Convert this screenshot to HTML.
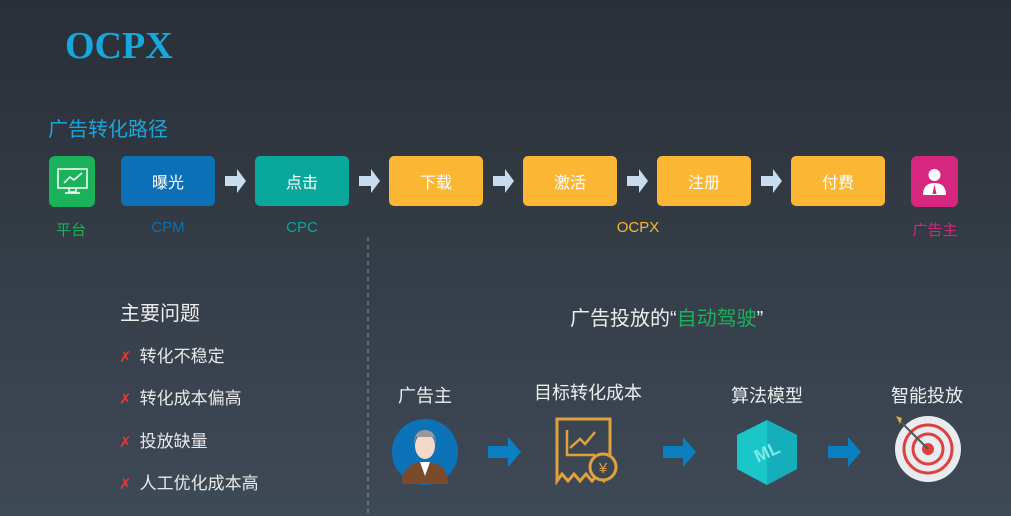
<!DOCTYPE html>
<html><head><meta charset="utf-8"><style>
*{margin:0;padding:0;box-sizing:border-box}
body{width:1011px;height:516px;overflow:hidden;position:relative;background:linear-gradient(180deg,#2a2f37 0%,#333b45 45%,#3f4a57 100%);font-family:"Liberation Sans","Noto Sans CJK SC",sans-serif;color:#fff}
.a{position:absolute}
.box{position:absolute;top:156px;width:94px;height:50px;border-radius:5px;color:#fff;font-size:16px;display:flex;align-items:center;justify-content:center}
.o{background:#fbb733}
.lbl{position:absolute;top:219px;font-size:15px;transform:translateX(-50%)}
.it{position:absolute;left:119px;font-size:17px;color:#e8e8e8}
.it span{color:#e03a3a;margin-right:8px;font-size:15px}
.bl{position:absolute;font-size:18px;color:#eee;transform:translateX(-50%)}
</style></head><body>
<div class="a" style="left:65px;top:24px;font-family:'Liberation Serif',serif;font-weight:bold;font-size:38px;color:#18a7dd">OCPX</div>
<div class="a" style="left:48px;top:113px;font-size:20px;color:#18a7dd">广告转化路径</div>

<div class="a" style="left:49px;top:156px;width:46px;height:51px;background:#1ab25b;border-radius:6px">
<svg width="46" height="51" viewBox="0 0 46 51"><rect x="9" y="13" width="29" height="19" fill="none" stroke="#fff" stroke-width="1.5"/><polyline points="15,27 21,21 25,24 33,17" fill="none" stroke="#fff" stroke-width="1.5"/><path d="M20 32v4h7v-4M16 37h15" stroke="#fff" stroke-width="1.5" fill="none"/></svg></div>
<div class="box" style="left:121px;background:#0b70b6">曝光</div>
<div class="box" style="left:255px;background:#0aa89b">点击</div>
<div class="box o" style="left:389px">下载</div>
<div class="box o" style="left:523px">激活</div>
<div class="box o" style="left:657px">注册</div>
<div class="box o" style="left:791px">付费</div>
<div class="a" style="left:911px;top:156px;width:47px;height:51px;background:#d6267f;border-radius:6px">
<svg width="47" height="51"><circle cx="23.5" cy="19" r="6" fill="#fff"/><path d="M12 39q0-12 11.5-12T35 39z" fill="#fff"/><path d="M23.5 28l-2 10h4z" fill="#d6267f"/></svg></div>
<svg class="a" style="left:0;top:0" width="1011" height="516">
<g fill="#c8dcf0">
<path d="M225 176h12v-7l9 12-9 12v-7h-12z"/>
<path d="M359 176h12v-7l9 12-9 12v-7h-12z"/>
<path d="M493 176h12v-7l9 12-9 12v-7h-12z"/>
<path d="M627 176h12v-7l9 12-9 12v-7h-12z"/>
<path d="M761 176h12v-7l9 12-9 12v-7h-12z"/>
</g>
<line x1="368" y1="237" x2="368" y2="516" stroke="#8a929c" stroke-width="1" stroke-dasharray="4,4"/>
<g fill="#0a80c2">
<path d="M488 446h20v-9l13 15-13 15v-9h-20z"/>
<path d="M663 446h20v-9l13 15-13 15v-9h-20z"/>
<path d="M828 446h20v-9l13 15-13 15v-9h-20z"/>
</g>
<ellipse cx="425" cy="452" rx="33" ry="33" fill="#0c73b8"/>
<path d="M402 484q0-22 23-22t23 22z" fill="#7a4a2c"/>
<path d="M420 462h10l-5 14z" fill="#fff"/>
<ellipse cx="425" cy="446" rx="10" ry="13" fill="#f3d9c8"/>
<path d="M414 445q0-15 11-15t11 15l-2-8h-18z" fill="#999"/>
<path d="M557 419h53v55l-6 7-6-7-6 7-6-7-6 7-6-7-6 7-6-7-5 7z" fill="none" stroke="#e0a23c" stroke-width="3"/>
<path d="M567 430v25h28M570 448l10-9 5 5 10-12" fill="none" stroke="#e0a23c" stroke-width="2.5"/>
<circle cx="603" cy="467" r="13" fill="#3c4651" stroke="#e0a23c" stroke-width="3"/>
<text x="603" y="473" font-size="15" fill="#e0a23c" text-anchor="middle" font-family="Liberation Sans">¥</text>
<path d="M767 420l30 15v34l-30 16-30-16v-34z" fill="#1bc6c8"/>
<path d="M767 420l30 15v34l-30 16z" fill="#10a0b0" opacity=".6"/>
<text x="767" y="458" font-size="18" font-weight="bold" fill="#7de8ec" text-anchor="middle" transform="rotate(-25 767 452)" font-family="Liberation Sans">ML</text>
<circle cx="928" cy="449" r="33" fill="#e8ecf0"/>
<circle cx="928" cy="449" r="24" fill="none" stroke="#e0403c" stroke-width="3"/>
<circle cx="928" cy="449" r="15" fill="none" stroke="#e0403c" stroke-width="3"/>
<circle cx="928" cy="449" r="6" fill="#e0403c"/>
<line x1="900" y1="421" x2="928" y2="449" stroke="#555" stroke-width="2"/>
<path d="M896 416l6 2-2 6z" fill="#d6b040"/>
</svg>
<div class="lbl" style="left:71px;color:#1ab25b">平台</div>
<div class="lbl" style="left:168px;color:#0b70b6">CPM</div>
<div class="lbl" style="left:302px;color:#0aa89b">CPC</div>
<div class="lbl" style="left:638px;color:#fbb733">OCPX</div>
<div class="lbl" style="left:935px;color:#d6267f">广告主</div>

<div class="a" style="left:120px;top:297px;font-size:20px;color:#eee">主要问题</div>
<div class="it" style="top:342px"><span>✗</span>转化不稳定</div>
<div class="it" style="top:384px"><span>✗</span>转化成本偏高</div>
<div class="it" style="top:427px"><span>✗</span>投放缺量</div>
<div class="it" style="top:469px"><span>✗</span>人工优化成本高</div>

<div class="a" style="left:570px;top:302px;font-size:20px;color:#eee">广告投放的“<span style="color:#1ab25b">自动驾驶</span>”</div>
<div class="bl" style="left:425px;top:382px">广告主</div>
<div class="bl" style="left:588px;top:379px">目标转化成本</div>
<div class="bl" style="left:767px;top:382px">算法模型</div>
<div class="bl" style="left:927px;top:382px">智能投放</div>
</body></html>
